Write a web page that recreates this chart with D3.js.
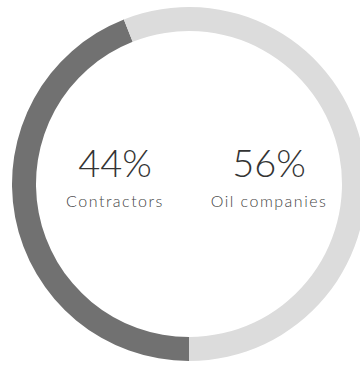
<!DOCTYPE html>
<html>
<head>
<meta charset="utf-8">
<script src="https://cdn.jsdelivr.net/npm/d3@7"></script>
<style>
  body { margin: 0; background: #fff; }
  text { font-family: Lato, "Open Sans", sans-serif; }
</style>
</head>
<body>
<div id="chart"></div>
<script>
// Data
var categories = ["Contractors", "Oil companies"];
var shares = [44, 56];
var labelX = [115, 269];

var width = 360, height = 365;
var cx = 189, cy = 184;
var outerR = 177, innerR = 153;

var color = d3.scaleOrdinal().domain(categories).range(["#717171", "#dcdcdc"]);

var svg = d3.select("#chart").append("svg")
  .attr("width", width)
  .attr("height", height);

var g = svg.append("g").attr("transform", "translate(" + cx + "," + cy + ")");

// start at the bottom, go clockwise
var pie = d3.pie()
  .sort(null)
  .startAngle(Math.PI)
  .endAngle(3 * Math.PI);

var arc = d3.arc().innerRadius(innerR).outerRadius(outerR);

g.selectAll("path")
  .data(pie(shares))
  .enter()
  .append("path")
  .attr("d", arc)
  .attr("fill", function(d, i) { return color(categories[i]); });

// Center labels
var lbl = svg.selectAll(".lbl")
  .data(categories)
  .enter()
  .append("g")
  .attr("class", "lbl")
  .attr("transform", function(d, i) { return "translate(" + labelX[i] + ",0)"; });

lbl.append("text")
  .attr("y", 177)
  .attr("text-anchor", "middle")
  .attr("font-size", 38)
  .attr("font-weight", 300)
  .attr("fill", "#333")
  .text(function(d, i) { return shares[i] + "%"; });

lbl.append("text")
  .attr("y", 207)
  .attr("text-anchor", "middle")
  .attr("font-size", 16)
  .attr("font-weight", 300)
  .attr("letter-spacing", 1.5)
  .attr("fill", "#444")
  .text(function(d) { return d; });
</script>
</body>
</html>
